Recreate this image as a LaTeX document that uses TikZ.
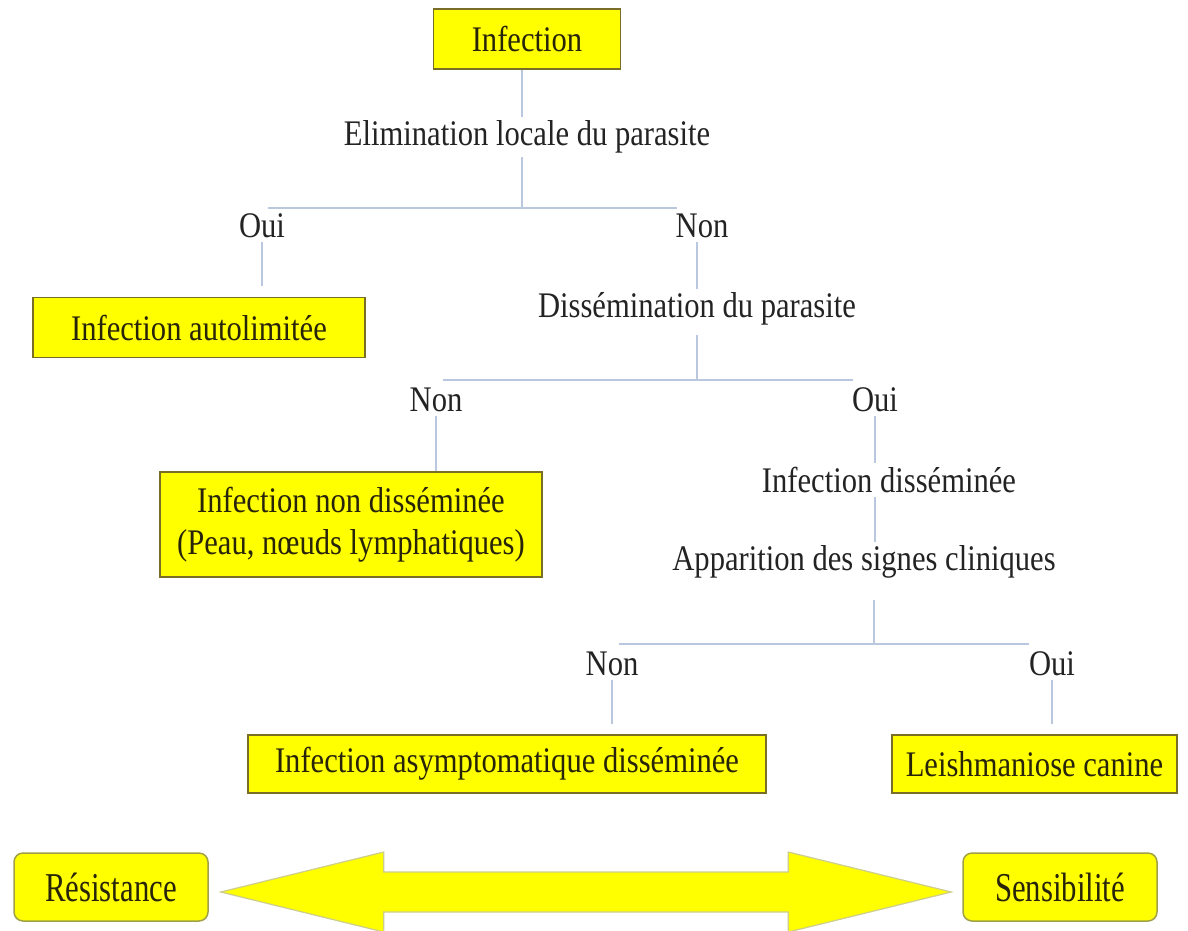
\documentclass[tikz,border=0pt]{standalone}
\usepackage{fontspec}
\setmainfont[FakeStretch=0.85]{Liberation Serif}
\newfontfamily\tallserif[FakeStretch=0.75]{Liberation Serif}
\usepackage{xcolor}
\usetikzlibrary{positioning,calc}
\definecolor{boxyellow}{RGB}{255,255,0}
\definecolor{boxedge}{RGB}{120,110,40}
\definecolor{poleedge}{RGB}{160,160,70}
\definecolor{linkgray}{RGB}{185,200,222}
\definecolor{txtgray}{RGB}{35,35,35}
\definecolor{boxtxt}{RGB}{40,36,10}
\definecolor{arrowedge}{RGB}{205,205,140}
\tikzset{
  every node/.style={font=\fontsize{36}{42}\selectfont, text=txtgray},
  phase/.style={inner sep=3.5pt},
  answer/.style={inner sep=3.5pt},
  outcome/.style={draw=boxedge, line width=1.2pt, fill=boxyellow, text=boxtxt,
    minimum height=60pt, align=center, inner sep=0pt},
  pole/.style={draw=poleedge, line width=1.5pt, fill=boxyellow, text=boxtxt,
    rounded corners=9pt, minimum width=194pt, minimum height=68pt, inner sep=0pt,
    font=\tallserif\fontsize{41}{44}\selectfont},
  link/.style={draw=linkgray, line width=1.4pt}
}

\begin{document}
\begin{tikzpicture}[x=1pt, y=-1pt]
  \useasboundingbox (0,0) rectangle (1188,930);

  \node[outcome, minimum width=187pt] (infect) at (527,39) {Infection};
  \node[phase] (elim) at (527,137) {Elimination locale du parasite};
  \coordinate (bar1l) at (268,208);
  \coordinate (bar1r) at (677,208);
  \coordinate (bar1m) at (522,208);
  \node[answer] (oui1) at (262,226) {Oui};
  \node[answer] (non1) at (702,226) {Non};
  \node[outcome, minimum width=332pt] (autolim) at (199,327.5) {Infection autolimitée};
  \node[phase] (dissem) at (697,309) {Dissémination du parasite};

  \coordinate (bar2l) at (443,380);
  \coordinate (bar2r) at (853,380);
  \node[answer] (non2) at (436,400) {Non};
  \node[answer] (oui2) at (875,400) {Oui};
  \node[outcome, minimum width=382pt, minimum height=105pt] (nondis) at (351,524.5)
    {Infection non disséminée\\(Peau, nœuds lymphatiques)};
  \node[phase] (infdis) at (889,480) {Infection disséminée};
  \node[phase] (appar) at (864,562) {Apparition des signes cliniques};

  \coordinate (bar3l) at (619,644);
  \coordinate (bar3r) at (1029,644);
  \coordinate (bar3m) at (874,644);
  \node[answer] (non3) at (612,664) {Non};
  \node[answer] (oui3) at (1052,664) {Oui};
  \node[outcome, minimum width=518pt, minimum height=58pt] (asym) at (507,764)
    {Infection asymptomatique disséminée};
  \node[outcome, minimum width=285pt, minimum height=58pt] (leish) at (1034.5,764)
    {Leishmaniose canine};

  \node[pole] (res) at (111,887) {Résistance};
  \node[pole] (sens) at (1060,887) {Sensibilité};

  \draw[link] (infect.south -| bar1m) -- (elim.north -| bar1m);
  \draw[link] (elim.south -| bar1m) -- (bar1m);
  \draw[link] (bar1l) -- (bar1r);
  \draw[link, shorten >=11pt] (oui1.south) -- (oui1.south |- autolim.north);
  \draw[link] (dissem.north |- non1.south) -- (dissem.north);
  \draw[link, shorten <=6pt] (dissem.south) -- (dissem.south |- bar2l);
  \draw[link] (bar2l) -- (bar2r);
  \draw[link] (non2.south) -- (non2.south |- nondis.north);
  \draw[link] (oui2.south) -- (oui2.south |- infdis.north);
  \draw[link] (infdis.south -| oui2.south) -- (appar.north -| oui2.south);
  \draw[link, shorten <=18pt] (bar3m |- appar.south) -- (bar3m);
  \draw[link] (bar3l) -- (bar3r);
  \draw[link, shorten >=10pt] (non3.south) -- (non3.south |- asym.north);
  \draw[link, shorten >=10pt] (oui3.south) -- (oui3.south |- leish.north);

  \coordinate (lt) at ($(res.east)+(12,5)$);
  \coordinate (rt) at ($(sens.west)+(-11,5)$);
  \filldraw[fill=boxyellow, draw=arrowedge, line width=1.2pt]
    (lt) -- ++(163,-40) -- ++(0,20) -- ($(rt)+(-163,-20)$) -- ++(0,-20) -- (rt)
    -- ++(-163,40) -- ++(0,-20) -- ($(lt)+(163,20)$) -- ++(0,20) -- cycle;
\end{tikzpicture}
\end{document}
